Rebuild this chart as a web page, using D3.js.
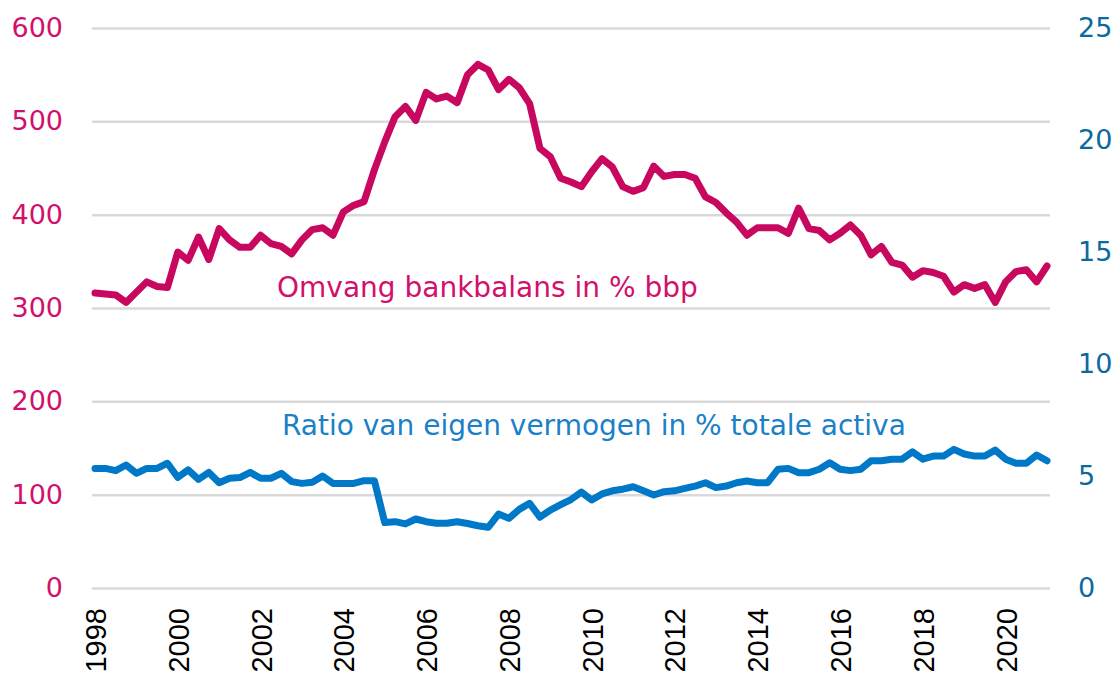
<!DOCTYPE html>
<html>
<head>
<meta charset="utf-8">
<script src="https://cdn.jsdelivr.net/npm/d3@7"></script>
<style>
  html, body { margin: 0; padding: 0; background: #fff; }
  svg { display: block; }
</style>
</head>
<body>
<svg width="1115" height="676"></svg>
<script>
// quarterly values, 1998Q1 .. 2021Q1
const startYear = 1998;
const bankBalans = [
  316, 315, 314, 306,
  317, 328, 323, 322,
  360, 351, 376, 352,
  385, 373, 365, 365,
  378, 369, 366, 358,
  373, 384, 386, 378,
  403, 410, 414, 448,
  478, 505, 516, 501,
  531, 524, 527, 520,
  550, 561, 555, 534,
  545, 536, 519, 471,
  462, 439, 435, 430,
  446, 460, 451, 430,
  425, 429, 452, 441,
  443, 443, 439, 419,
  413, 402, 392, 378,
  386, 386, 386, 380,
  407, 385, 383, 373,
  380, 389, 378, 357,
  366, 349, 346, 333,
  340, 338, 334, 317,
  325, 321, 325, 306,
  328, 339, 341, 328,
  345
];
const eigenVermogen = [
  5.34, 5.34, 5.24, 5.49,
  5.12, 5.34, 5.34, 5.57,
  4.94, 5.27, 4.85, 5.16,
  4.70, 4.90, 4.93, 5.16,
  4.90, 4.90, 5.12, 4.75,
  4.67, 4.72, 5.00, 4.67,
  4.67, 4.67, 4.79, 4.79,
  2.92, 2.96, 2.86, 3.08,
  2.96, 2.89, 2.89, 2.96,
  2.88, 2.78, 2.71, 3.30,
  3.11, 3.51, 3.78, 3.16,
  3.48, 3.72, 3.95, 4.28,
  3.93, 4.20, 4.34, 4.41,
  4.52, 4.34, 4.15, 4.30,
  4.34, 4.45, 4.55, 4.70,
  4.48, 4.55, 4.70, 4.78,
  4.70, 4.70, 5.30, 5.34,
  5.15, 5.15, 5.30, 5.59,
  5.30, 5.24, 5.30, 5.68,
  5.68, 5.75, 5.75, 6.08,
  5.75, 5.89, 5.89, 6.19,
  5.98, 5.89, 5.89, 6.16,
  5.75, 5.57, 5.57, 5.94,
  5.68
];
const leftTicks = [0, 100, 200, 300, 400, 500, 600];
const rightTicks = [0, 5, 10, 15, 20, 25];
const yearTicks = d3.range(1998, 2021, 2);
const labelBank = "Omvang bankbalans in % bbp";
const labelRatio = "Ratio van eigen vermogen in % totale activa";

const pink = "#c8085f";
const blue = "#0078c8";

const svg = d3.select("svg");

const x = d3.scaleLinear().domain([1998, 2021]).range([95, 1047]);
const yL = d3.scaleLinear().domain([0, 600]).range([588, 28]);
const yR = d3.scaleLinear().domain([0, 25]).range([588, 28]);

const t = (d, i) => startYear + i / 4;

// left axis + gridlines
const gL = svg.append("g")
  .attr("transform", "translate(92,0)")
  .call(d3.axisLeft(yL).tickValues(leftTicks).tickSize(-958).tickPadding(29));
gL.select(".domain").remove();
gL.selectAll("line").attr("stroke", "#d9d9d9").attr("stroke-width", 2.5);
gL.selectAll("text")
  .attr("fill", "#d2106c")
  .style("font-family", "'DejaVu Sans', Verdana, sans-serif")
  .style("font-size", "27px");

// right axis
const gR = svg.append("g")
  .attr("transform", "translate(1050,0)")
  .call(d3.axisRight(yR).tickValues(rightTicks).tickSize(0).tickPadding(28));
gR.select(".domain").remove();
gR.selectAll("text")
  .attr("fill", "#0a6aa0")
  .style("font-family", "'DejaVu Sans', Verdana, sans-serif")
  .style("font-size", "27px");

// x axis, rotated labels
const gX = svg.append("g")
  .attr("transform", "translate(0,588)")
  .call(d3.axisBottom(x).tickValues(yearTicks).tickFormat(d3.format("d")).tickSize(0));
gX.select(".domain").remove();
gX.selectAll("text")
  .attr("transform", "rotate(-90)")
  .attr("x", -20)
  .attr("y", 0)
  .attr("dy", "0.36em")
  .attr("text-anchor", "end")
  .attr("fill", "#000")
  .style("font-family", "'Liberation Sans', Arial, sans-serif")
  .style("font-size", "29px");

// lines
svg.append("path")
  .datum(bankBalans)
  .attr("fill", "none")
  .attr("stroke", pink)
  .attr("stroke-width", 7)
  .attr("stroke-linejoin", "round")
  .attr("stroke-linecap", "round")
  .attr("d", d3.line().x((d, i) => x(t(d, i))).y(d => yL(d)));

svg.append("path")
  .datum(eigenVermogen)
  .attr("fill", "none")
  .attr("stroke", blue)
  .attr("stroke-width", 7)
  .attr("stroke-linejoin", "round")
  .attr("stroke-linecap", "round")
  .attr("d", d3.line().x((d, i) => x(t(d, i))).y(d => yR(d)));

// series labels
svg.append("text")
  .attr("x", 277).attr("y", 297)
  .attr("fill", "#d2106c")
  .style("font-family", "'DejaVu Sans', Verdana, sans-serif")
  .style("font-size", "28px")
  .text(labelBank);

svg.append("text")
  .attr("x", 282).attr("y", 435)
  .attr("fill", "#1a80c8")
  .style("font-family", "'DejaVu Sans', Verdana, sans-serif")
  .style("font-size", "28px")
  .text(labelRatio);
</script>
</body>
</html>
